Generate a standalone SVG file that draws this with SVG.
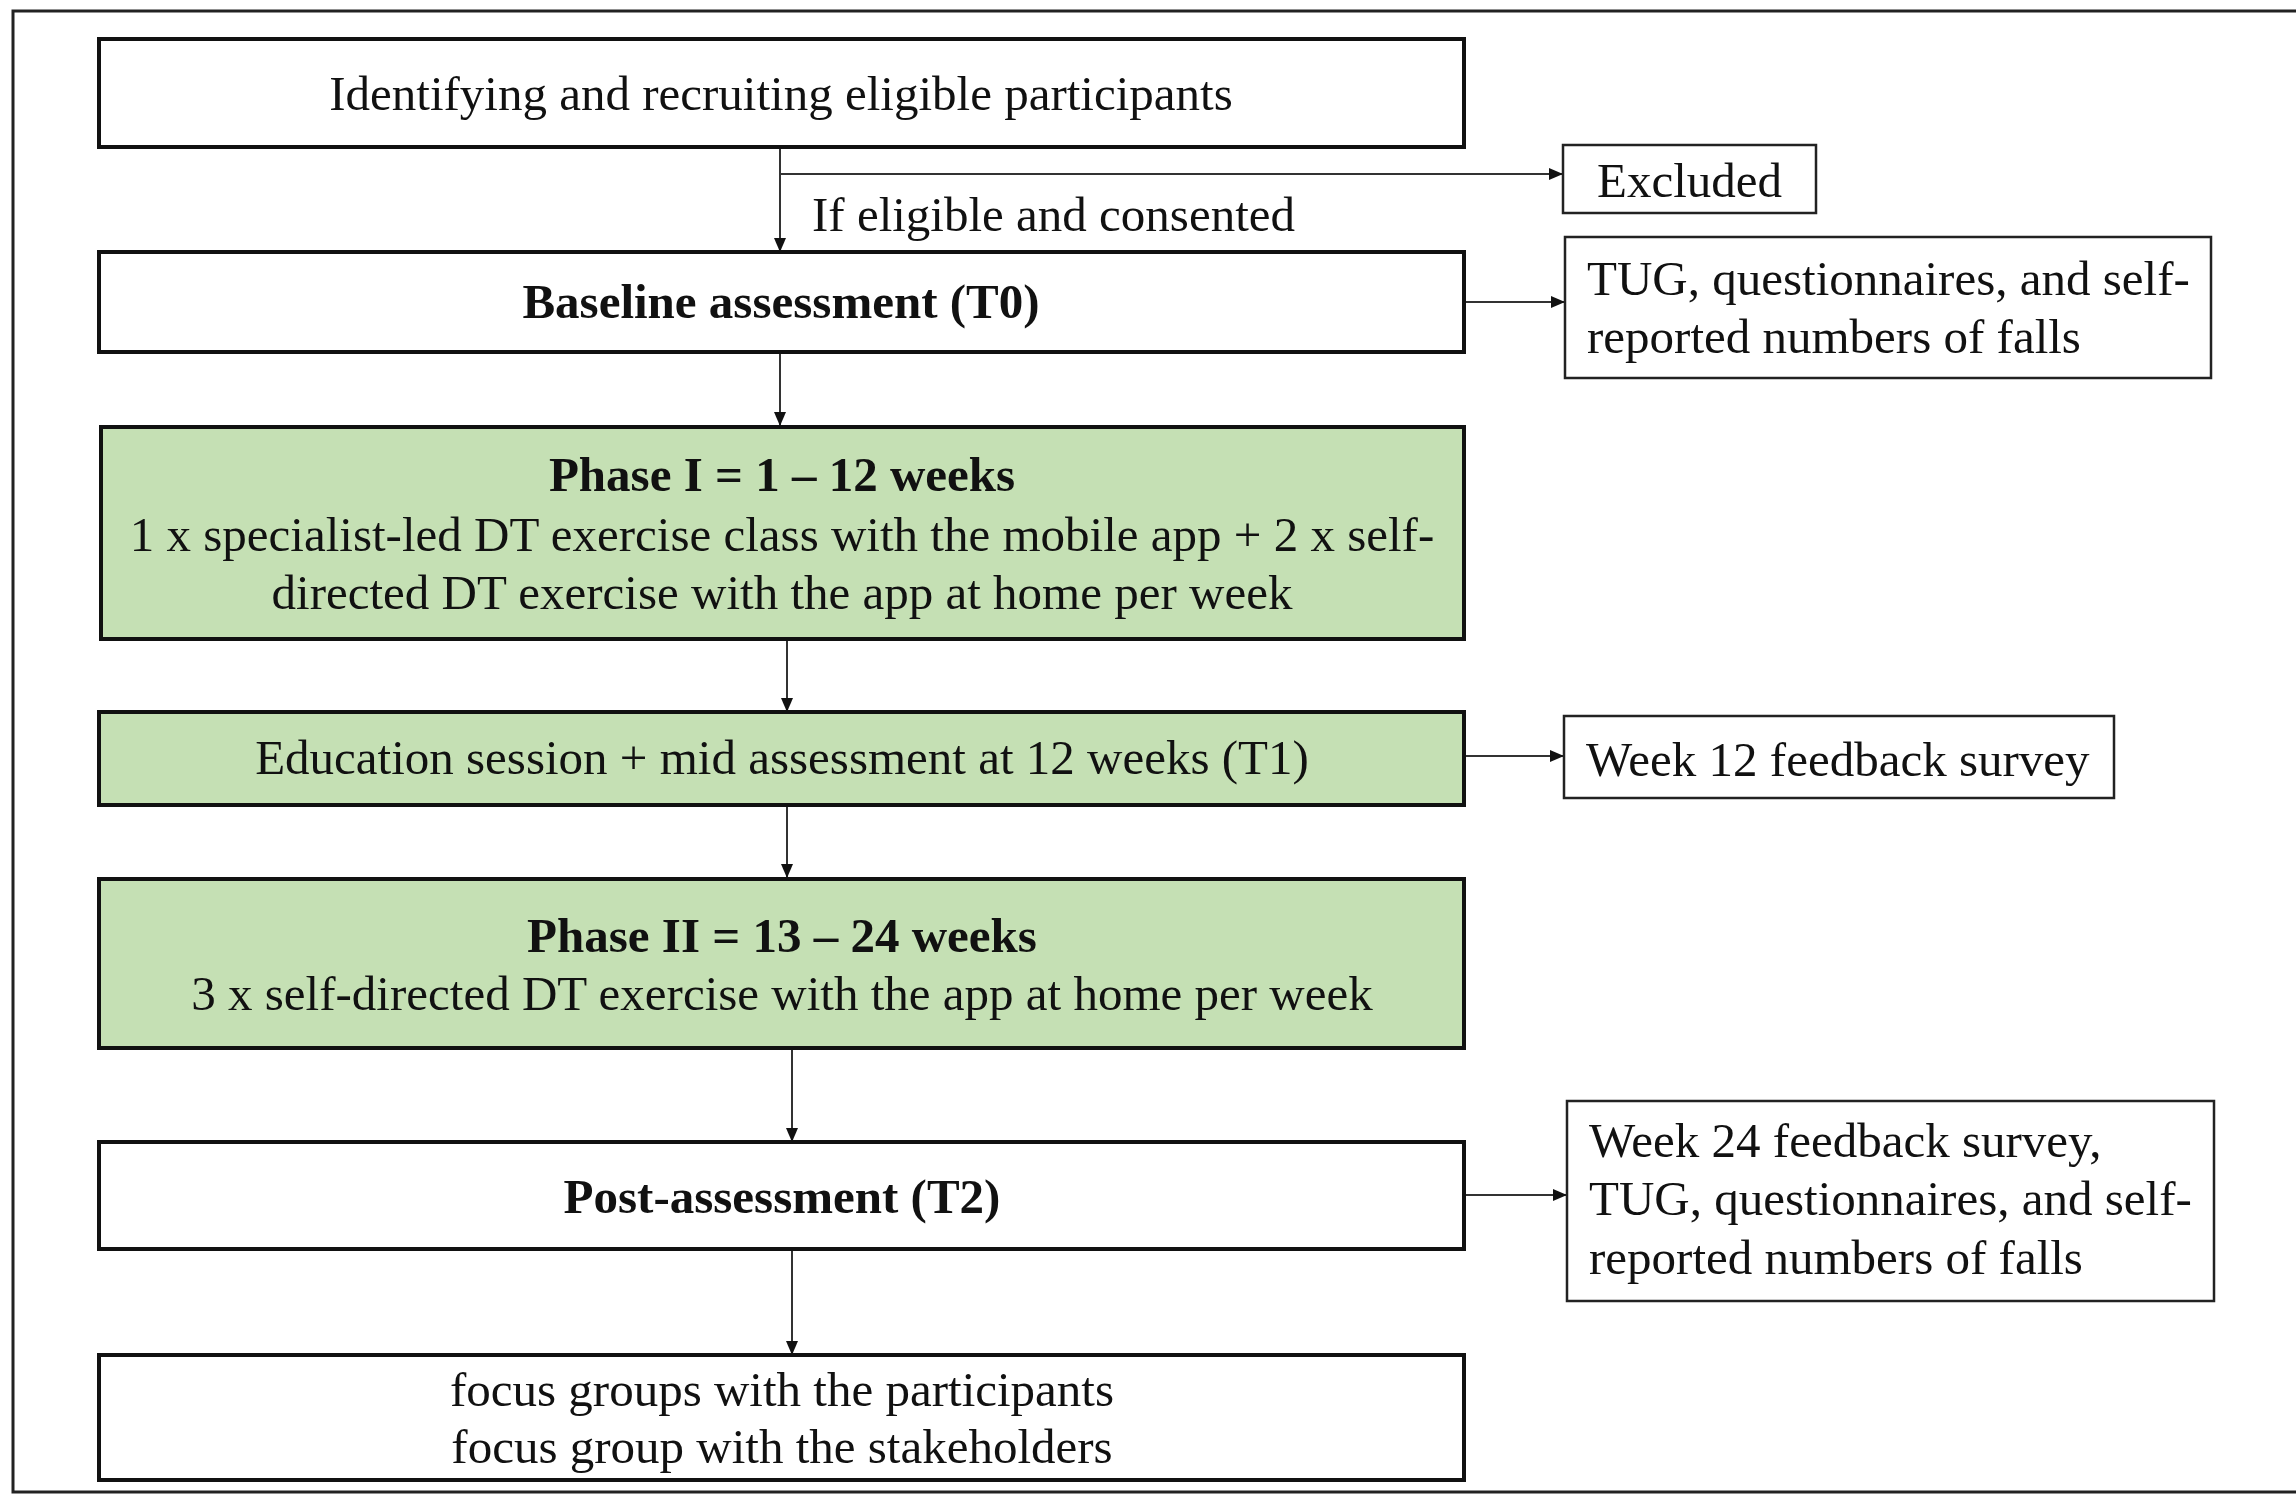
<svg xmlns="http://www.w3.org/2000/svg" width="2296" height="1494" viewBox="0 0 2296 1494">
<style>
text{font-family:"Liberation Serif","Times New Roman",serif;font-size:49px;fill:#111}
.c{text-anchor:middle}
.b{font-weight:bold}
.main{fill:#fff;stroke:#111;stroke-width:4}
.green{fill:#c5e0b4;stroke:#111;stroke-width:4}
.side{fill:#fff;stroke:#222;stroke-width:2.5}
.conn{stroke:#333;stroke-width:2;fill:none}
</style>
<defs>
<marker id="ah" markerUnits="userSpaceOnUse" markerWidth="14" markerHeight="12" refX="14" refY="6" orient="auto">
<path d="M0,0 L14,6 L0,12 z" fill="#111"/>
</marker>
</defs>
<rect width="2296" height="1494" fill="#fff"/>
<g id="frame">
<path d="M2296,11 L13,11 L13,1492 L2296,1492" fill="none" stroke="#222" stroke-width="3"/>
</g>
<g id="connectors">
<line class="conn" x1="780" y1="147" x2="780" y2="252" marker-end="url(#ah)"/>
<line class="conn" x1="780" y1="174" x2="1563" y2="174" marker-end="url(#ah)"/>
<line class="conn" x1="1464" y1="302" x2="1565" y2="302" marker-end="url(#ah)"/>
<line class="conn" x1="780" y1="352" x2="780" y2="426" marker-end="url(#ah)"/>
<line class="conn" x1="787" y1="640" x2="787" y2="712" marker-end="url(#ah)"/>
<line class="conn" x1="1464" y1="756" x2="1564" y2="756" marker-end="url(#ah)"/>
<line class="conn" x1="787" y1="805" x2="787" y2="878" marker-end="url(#ah)"/>
<line class="conn" x1="792" y1="1048" x2="792" y2="1142" marker-end="url(#ah)"/>
<line class="conn" x1="1464" y1="1195" x2="1567" y2="1195" marker-end="url(#ah)"/>
<line class="conn" x1="792" y1="1249" x2="792" y2="1355" marker-end="url(#ah)"/>
</g>
<g id="recruit">
<rect class="main" x="99" y="39" width="1365" height="108"/>
<text class="c" x="781" y="110">Identifying and recruiting eligible participants</text>
</g>
<g id="label-eligible">
<text x="812" y="231">If eligible and consented</text>
</g>
<g id="excluded">
<rect class="side" x="1563" y="145" width="253" height="68"/>
<text x="1597" y="197">Excluded</text>
</g>
<g id="baseline">
<rect class="main" x="99" y="252" width="1365" height="100"/>
<text class="c b" x="781" y="318">Baseline assessment (T0)</text>
</g>
<g id="t0-measures">
<rect class="side" x="1565" y="237" width="646" height="141"/>
<text x="1587" y="295">TUG, questionnaires, and self-</text>
<text x="1587" y="353">reported numbers of falls</text>
</g>
<g id="phase1">
<rect class="green" x="101" y="427" width="1363" height="212"/>
<text class="c b" x="782" y="491">Phase I = 1 – 12 weeks</text>
<text class="c" x="782" y="551">1 x specialist-led DT exercise class with the mobile app + 2 x self-</text>
<text class="c" x="782" y="609">directed DT exercise with the app at home per week</text>
</g>
<g id="education">
<rect class="green" x="99" y="712" width="1365" height="93"/>
<text class="c" x="782" y="774">Education session + mid assessment at 12 weeks (T1)</text>
</g>
<g id="week12">
<rect class="side" x="1564" y="716" width="550" height="82"/>
<text x="1586" y="776">Week 12 feedback survey</text>
</g>
<g id="phase2">
<rect class="green" x="99" y="879" width="1365" height="169"/>
<text class="c b" x="782" y="952">Phase II = 13 – 24 weeks</text>
<text class="c" x="782" y="1010">3 x self-directed DT exercise with the app at home per week</text>
</g>
<g id="post">
<rect class="main" x="99" y="1142" width="1365" height="107"/>
<text class="c b" x="782" y="1213">Post-assessment (T2)</text>
</g>
<g id="t2-measures">
<rect class="side" x="1567" y="1101" width="647" height="200"/>
<text x="1589" y="1157">Week 24 feedback survey,</text>
<text x="1589" y="1215">TUG, questionnaires, and self-</text>
<text x="1589" y="1274">reported numbers of falls</text>
</g>
<g id="focus">
<rect class="main" x="99" y="1355" width="1365" height="125"/>
<text class="c" x="782" y="1406">focus groups with the participants</text>
<text class="c" x="782" y="1463">focus group with the stakeholders</text>
</g>
</svg>
